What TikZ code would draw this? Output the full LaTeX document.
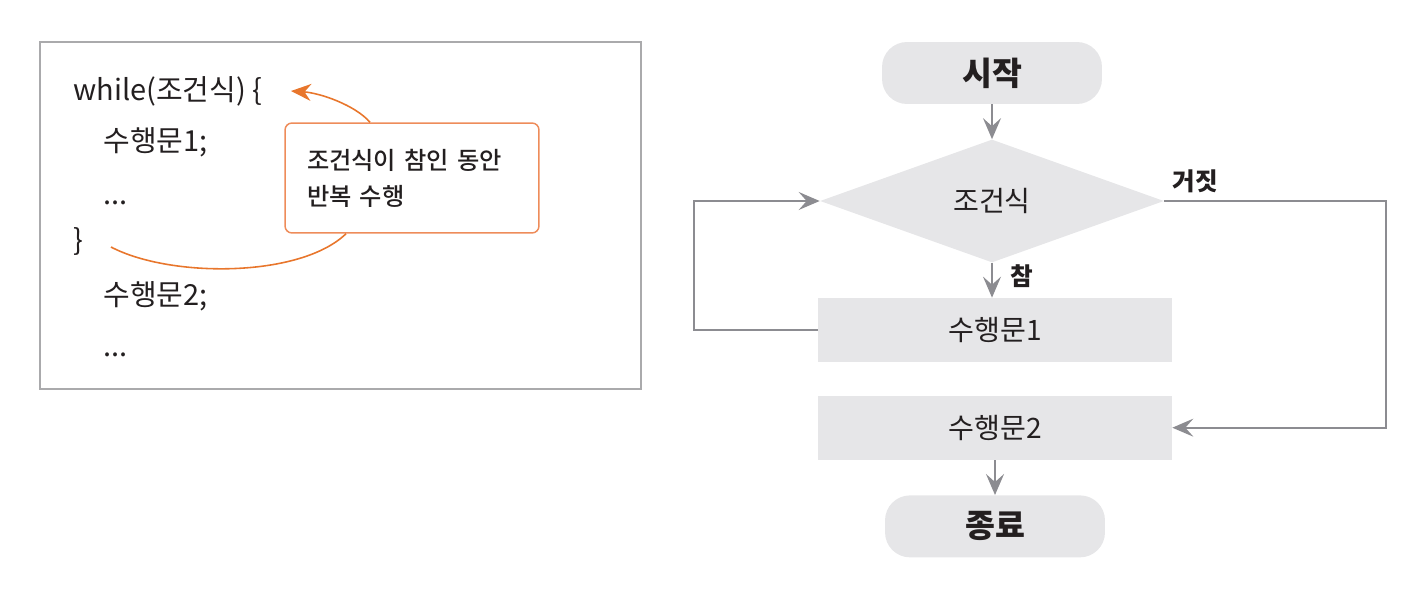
\documentclass[tikz,border=0pt]{standalone}
\usepackage{fontspec}
\setmainfont{Noto Sans CJK KR}
\newfontfamily\notefont{Noto Sans CJK KR Medium}
\usepackage{tikz}
\usetikzlibrary{arrows.meta,positioning,shapes.geometric}
\definecolor{boxgray}{RGB}{230,230,232}
\definecolor{linegray}{RGB}{140,140,145}
\definecolor{framegray}{RGB}{170,170,172}
\definecolor{arroworange}{RGB}{232,118,44}
\definecolor{noteorange}{RGB}{238,140,90}
\definecolor{textdark}{RGB}{35,31,32}

\begin{document}
\begin{tikzpicture}[
x=0.02cm, y=-0.02cm,
every node/.style={text=textdark},
codeline/.style={anchor=base west, inner sep=0pt, font=\fontsize{16.5}{18}\selectfont},
note/.style={rectangle, rounded corners=0.14cm, draw=noteorange, line width=0.85pt, minimum width=5.08cm, minimum height=2.2cm, text width=4.2cm, inner xsep=0.44cm, align=left, font=\notefont\fontsize{13.8}{20.5}\selectfont},
notearrow/.style={draw=arroworange, line width=0.9pt},
terminal/.style={rectangle, rounded corners=0.5cm, fill=boxgray, minimum width=4.4cm, minimum height=1.24cm, font=\fontsize{18.5}{20}\selectfont\bfseries},
process/.style={rectangle, fill=boxgray, minimum width=7.08cm, minimum height=1.28cm, font=\fontsize{16}{18}\selectfont},
decision/.style={diamond, fill=boxgray, minimum width=6.88cm, minimum height=2.46cm, inner sep=0pt, font=\fontsize{16}{18}\selectfont},
flow/.style={-{Stealth[length=4.2mm, width=3.6mm, inset=1.6mm]}, draw=linegray, line width=1pt},
branch/.style={font=\fontsize{14}{16}\selectfont\bfseries}
]

\useasboundingbox (0,0) rectangle (1409,594);

% Code frame

\draw[framegray, line width=0.7pt] (40,42) rectangle (641,389);

\node[codeline] (whileline) at (73,101) {while(조건식) \{};
\node[codeline] (stmtone) at (103,152) {수행문1;};
\node[codeline] (dotsone) at (103,205) {...};
\node[codeline] (closebrace) at (73,251) {\}};
\node[codeline] (stmttwo) at (103,306) {수행문2;};
\node[codeline] (dotstwo) at (103,357) {...};

% Callout

\node[note] (note) at (412,178) {조건식이 참인 동안\\반복 수행};

\coordinate (looptip) at (291,91);
\coordinate (braceend) at (111,247);

\draw[notearrow, -{Stealth[length=4mm, width=3.4mm, inset=1.3mm]}] ([xshift=-0.84cm]note.north) .. controls (355,105) and (320,93) .. (looptip);
\draw[notearrow] (braceend) .. controls (170,278) and (300,278) .. ([xshift=-1.32cm]note.south);

% Flowchart

\node[terminal] (start) at (992,73) {시작};
\node[decision] (cond) at (992,201) {조건식};
\node[process] (stmt1) at (995,330) {수행문1};
\node[process, below=0.66cm of stmt1] (stmt2) {수행문2};
\node[terminal, below=0.7cm of stmt2] (finish) {종료};

\draw[flow] (start) -- (cond);
\draw[flow] (cond.south) -- (stmt1.north -| cond.south);
\draw[flow] (stmt2.south -| finish.north) -- (finish.north);

% Loop back and exit

\draw[flow] (stmt1.west) -- ++(-124,0) |- (cond.west);
\draw[flow] (cond.east) -- ++(222,0) |- (stmt2.east);

\node[branch] (falselabel) at (1195,181) {거짓};
\node[branch] (truelabel) at (1022,276) {참};

\end{tikzpicture}
\end{document}
